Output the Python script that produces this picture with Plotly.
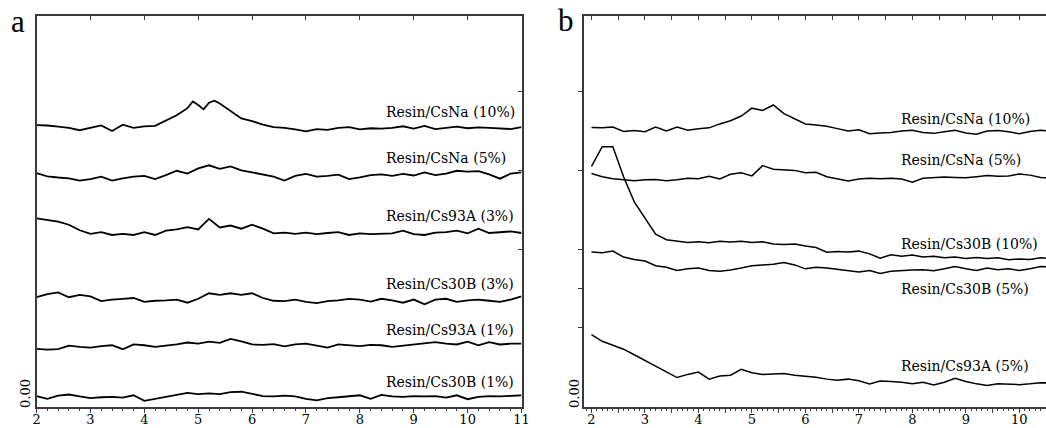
import plotly.graph_objects as go

W, H = 1046, 428

# ---------------- data ----------------
xa = [round(2.0 + 0.2 * i, 1) for i in range(46)]          # 2.0 .. 11.0
xb = [round(2.0 + 0.2 * i, 1) for i in range(44)]          # 2.0 .. 10.6

# the CsNa (10%) trace of panel a has a split peak, read at a finer step there
xa_csna10 = xa[:15] + [4.9, 5.0, 5.1, 5.2, 5.3, 5.4] + xa[18:]
a_csna10 = [7.15, 7.14, 7.11, 7.08, 7.02, 7.08, 7.14, 7.00, 7.16, 7.08, 7.12, 7.13, 7.27, 7.40, 7.58,
            7.75, 7.66, 7.55, 7.72, 7.77, 7.70,
            7.52, 7.32, 7.25, 7.16, 7.10, 7.08, 7.04, 6.99, 7.05, 7.03, 7.08, 7.10,
            7.04, 7.07, 7.06, 7.08, 7.12, 7.06, 7.13, 7.05, 7.08, 7.11, 7.07, 7.09, 7.08, 7.06, 7.05, 7.10]
a_csna5 = [5.93, 5.85, 5.82, 5.80, 5.74, 5.78, 5.84, 5.74, 5.80, 5.84, 5.86, 5.78, 5.88, 5.99, 5.92,
           6.05, 6.13, 6.04, 6.10, 6.00, 5.95, 5.90, 5.84, 5.74, 5.86, 5.91, 5.84, 5.86, 5.89, 5.78,
           5.82, 5.88, 5.90, 5.86, 5.91, 5.87, 5.95, 5.88, 5.92, 5.99, 5.97, 5.98, 5.90, 5.79, 5.92, 5.95]
a_cs93a3 = [4.78, 4.74, 4.70, 4.62, 4.48, 4.39, 4.43, 4.36, 4.39, 4.36, 4.43, 4.36, 4.47, 4.50, 4.56,
            4.50, 4.77, 4.55, 4.60, 4.52, 4.62, 4.52, 4.40, 4.42, 4.39, 4.42, 4.38, 4.41, 4.43, 4.36,
            4.40, 4.38, 4.39, 4.40, 4.47, 4.38, 4.36, 4.42, 4.43, 4.47, 4.40, 4.52, 4.41, 4.43, 4.45, 4.41]
a_cs30b3 = [2.78, 2.86, 2.90, 2.78, 2.84, 2.80, 2.68, 2.72, 2.74, 2.76, 2.66, 2.69, 2.70, 2.72, 2.64,
            2.74, 2.88, 2.84, 2.88, 2.84, 2.88, 2.76, 2.69, 2.68, 2.72, 2.66, 2.63, 2.68, 2.70, 2.74,
            2.72, 2.67, 2.74, 2.70, 2.64, 2.72, 2.60, 2.72, 2.74, 2.66, 2.70, 2.72, 2.69, 2.66, 2.72, 2.80]
a_cs93a1 = [1.47, 1.45, 1.46, 1.55, 1.52, 1.50, 1.54, 1.56, 1.46, 1.58, 1.56, 1.52, 1.55, 1.58, 1.63,
            1.60, 1.65, 1.62, 1.72, 1.66, 1.58, 1.57, 1.59, 1.53, 1.58, 1.60, 1.55, 1.50, 1.58, 1.56,
            1.54, 1.57, 1.56, 1.52, 1.55, 1.58, 1.62, 1.64, 1.60, 1.58, 1.65, 1.56, 1.64, 1.58, 1.60, 1.60]
a_cs30b1 = [0.27, 0.20, 0.28, 0.31, 0.26, 0.22, 0.24, 0.25, 0.23, 0.29, 0.15, 0.20, 0.25, 0.30, 0.35,
            0.32, 0.34, 0.32, 0.37, 0.38, 0.33, 0.27, 0.26, 0.28, 0.26, 0.20, 0.16, 0.22, 0.24, 0.26,
            0.29, 0.20, 0.30, 0.26, 0.25, 0.27, 0.26, 0.27, 0.23, 0.29, 0.19, 0.25, 0.27, 0.26, 0.28, 0.29]

b_csna10 = [7.09, 7.08, 7.10, 6.99, 7.01, 6.98, 7.10, 7.00, 7.10, 7.02, 7.06, 7.08, 7.18, 7.26, 7.38,
            7.58, 7.52, 7.66, 7.44, 7.32, 7.18, 7.15, 7.12, 7.06, 7.00, 7.03, 6.93, 6.95, 6.96, 7.00,
            7.02, 6.96, 6.94, 6.98, 7.02, 6.95, 6.92, 7.00, 7.01, 6.98, 6.93, 6.99, 7.02, 6.99]
b_csna5 = [5.92, 5.84, 5.79, 5.77, 5.74, 5.76, 5.77, 5.74, 5.76, 5.80, 5.79, 5.85, 5.78, 5.90, 5.94,
           5.86, 6.12, 6.03, 6.02, 6.00, 5.94, 5.95, 5.84, 5.78, 5.73, 5.78, 5.80, 5.79, 5.80, 5.78,
           5.70, 5.80, 5.81, 5.83, 5.82, 5.81, 5.84, 5.87, 5.85, 5.86, 5.91, 5.88, 5.82, 5.81]
b_cs30b10 = [6.10, 6.60, 6.60, 5.84, 5.20, 4.80, 4.38, 4.24, 4.20, 4.17, 4.19, 4.16, 4.20, 4.18, 4.20,
             4.17, 4.19, 4.13, 4.12, 4.13, 4.08, 4.04, 3.92, 3.94, 3.93, 3.95, 3.88, 3.77, 3.86, 3.82,
             3.85, 3.80, 3.82, 3.78, 3.80, 3.76, 3.79, 3.76, 3.78, 3.73, 3.75, 3.74, 3.78, 3.76]
b_cs30b5 = [3.93, 3.91, 3.95, 3.80, 3.74, 3.70, 3.58, 3.54, 3.46, 3.50, 3.52, 3.46, 3.44, 3.47, 3.52,
            3.58, 3.60, 3.62, 3.66, 3.60, 3.50, 3.54, 3.52, 3.49, 3.46, 3.42, 3.46, 3.38, 3.44, 3.46,
            3.47, 3.48, 3.45, 3.50, 3.56, 3.50, 3.46, 3.52, 3.48, 3.50, 3.46, 3.50, 3.56, 3.55]
b_cs93a5 = [1.83, 1.66, 1.56, 1.46, 1.32, 1.18, 1.02, 0.88, 0.74, 0.82, 0.88, 0.70, 0.78, 0.80, 0.95,
            0.86, 0.82, 0.83, 0.84, 0.80, 0.78, 0.75, 0.70, 0.67, 0.70, 0.66, 0.58, 0.65, 0.64, 0.62,
            0.58, 0.62, 0.55, 0.62, 0.72, 0.64, 0.58, 0.54, 0.58, 0.57, 0.56, 0.58, 0.61, 0.60]

labels_a = ["Resin/CsNa (10%)", "Resin/CsNa (5%)", "Resin/Cs93A (3%)",
            "Resin/Cs30B (3%)", "Resin/Cs93A (1%)", "Resin/Cs30B (1%)"]
labels_b = ["Resin/CsNa (10%)", "Resin/CsNa (5%)", "Resin/Cs30B (10%)",
            "Resin/Cs30B (5%)", "Resin/Cs93A (5%)"]

xticks_a = list(range(2, 12))
xticks_b = list(range(2, 11))
zero_label = "0.00"
panel_letters = ["a", "b"]

# ---------------- layout helpers ----------------
def px(x):
    return x / W

def py(y):
    return 1 - y / H

YR = [0, 9.92]
ydom = [py(406.7), py(16)]
dom_a = [px(36.6), px(521.5)]
dom_b = [px(584), 1.0]
XR_A = [2, 11]
XR_B = [1.86, 10.5]

AX = "#3a3a3a"
TICKFONT = dict(family="DejaVu Serif", size=13, color="black")
LABFONT = dict(family="DejaVu Serif", size=14, color="black")

fig = go.Figure()

series_a = [(xa_csna10, a_csna10), (xa, a_csna5), (xa, a_cs93a3),
            (xa, a_cs30b3), (xa, a_cs93a1), (xa, a_cs30b1)]
for xs, ys in series_a:
    fig.add_trace(go.Scatter(x=xs, y=ys, mode="lines", xaxis="x", yaxis="y",
                             line=dict(color="black", width=1.8), showlegend=False,
                             hoverinfo="skip"))
for ys in [b_csna10, b_csna5, b_cs30b10, b_cs30b5, b_cs93a5]:
    fig.add_trace(go.Scatter(x=xb, y=ys, mode="lines", xaxis="x2", yaxis="y2",
                             line=dict(color="black", width=1.5), showlegend=False,
                             hoverinfo="skip"))

half_b = [2 + 0.5 * i for i in range(18)]
common = dict(showgrid=False, zeroline=False, automargin=False)

fig.update_layout(
    template="none",
    width=W, height=H, margin=dict(l=0, r=0, t=0, b=0, pad=0),
    paper_bgcolor="white", plot_bgcolor="white", showlegend=False,
    # ---- panel a ----
    xaxis=dict(domain=dom_a, range=XR_A, anchor="y", **common,
               showline=True, linecolor=AX, linewidth=1.5,
               tickmode="array", tickvals=xticks_a, showticklabels=False,
               ticks="outside", ticklen=5, tickwidth=1.3, tickcolor=AX,
               minor=dict(dtick=0.2, ticks="outside", ticklen=2.5, tickwidth=1.2, tickcolor=AX)),
    xaxis5=dict(overlaying="x", side="bottom", anchor="y", range=XR_A, **common,
                showline=False, ticks="", tickmode="array", tickvals=xticks_a,
                ticktext=[str(v) for v in xticks_a], tickfont=TICKFONT, ticklabelstandoff=3),
    yaxis=dict(domain=ydom, range=YR, anchor="x", **common,
               showline=True, linecolor=AX, linewidth=1.5, ticks="", showticklabels=False),
    xaxis3=dict(overlaying="x", side="top", anchor="y", range=XR_A, **common,
                showline=True, linecolor=AX, linewidth=1.5,
                tickmode="array", tickvals=xticks_a, ticks="inside", ticklen=4,
                tickwidth=1.3, tickcolor=AX, showticklabels=False),
    yaxis3=dict(overlaying="y", side="right", anchor="x", range=YR, **common,
                showline=True, linecolor=AX, linewidth=1.5,
                tickmode="array", tickvals=[4, 6, 8], ticks="inside", ticklen=4,
                tickwidth=1.3, tickcolor=AX, showticklabels=False),
    # ---- panel b ----
    xaxis2=dict(domain=dom_b, range=XR_B, anchor="y2", **common,
                showline=True, linecolor=AX, linewidth=1.5,
                tickmode="array", tickvals=half_b, showticklabels=False,
                ticks="outside", ticklen=5, tickwidth=1.3, tickcolor=AX,
                minor=dict(dtick=0.1, ticks="outside", ticklen=2.5, tickwidth=1.1, tickcolor=AX)),
    xaxis6=dict(overlaying="x2", side="bottom", anchor="y2", range=XR_B, **common,
                showline=False, ticks="", tickmode="array", tickvals=xticks_b,
                ticktext=[str(v) for v in xticks_b], tickfont=TICKFONT, ticklabelstandoff=3),
    yaxis2=dict(domain=ydom, range=YR, anchor="x2", **common,
                showline=True, linecolor=AX, linewidth=1.5,
                tickmode="array", tickvals=[2, 3, 4, 6, 8], ticks="outside", ticklen=4,
                tickwidth=1.3, tickcolor=AX, showticklabels=False),
    xaxis4=dict(overlaying="x2", side="top", anchor="y2", range=XR_B, **common,
                showline=True, linecolor=AX, linewidth=1.5,
                tickmode="array", tickvals=half_b, ticks="inside", ticklen=4,
                tickwidth=1.3, tickcolor=AX, showticklabels=False),
)

# empty traces so the overlay axes are drawn
for xa_, ya_ in [("x3", "y3"), ("x4", "y2"), ("x5", "y"), ("x6", "y2")]:
    fig.add_trace(go.Scatter(x=[None], y=[None], xaxis=xa_, yaxis=ya_, showlegend=False,
                             hoverinfo="skip"))

ann = []
pos_a = [111.6, 157.9, 216, 284.4, 330, 382.4]
for t, yy in zip(labels_a, pos_a):
    ann.append(dict(text=t, x=px(384), y=py(yy), xref="paper", yref="paper",
                    xanchor="left", yanchor="middle", showarrow=False, font=LABFONT))
pos_b = [119.1, 160.3, 243.5, 288.8, 366]
for t, yy in zip(labels_b, pos_b):
    ann.append(dict(text=t, x=px(899), y=py(yy), xref="paper", yref="paper",
                    xanchor="left", yanchor="middle", showarrow=False, font=LABFONT))
for xx in [25, 574]:
    ann.append(dict(text=zero_label, x=px(xx), y=py(394), xref="paper", yref="paper",
                    xanchor="center", yanchor="middle", textangle=-90, showarrow=False,
                    font=TICKFONT))
for t, (xx, yy) in zip(panel_letters, [(18, 22), (566, 20)]):
    ann.append(dict(text=t, x=px(xx), y=py(yy), xref="paper", yref="paper",
                    xanchor="center", yanchor="middle", showarrow=False,
                    font=dict(family="Liberation Serif", size=31, color="black")))
fig.update_layout(annotations=ann)

fig.write_html("out.html", config={"displayModeBar": False},
               post_script="document.body.style.margin='0';document.body.style.overflow='hidden';")
